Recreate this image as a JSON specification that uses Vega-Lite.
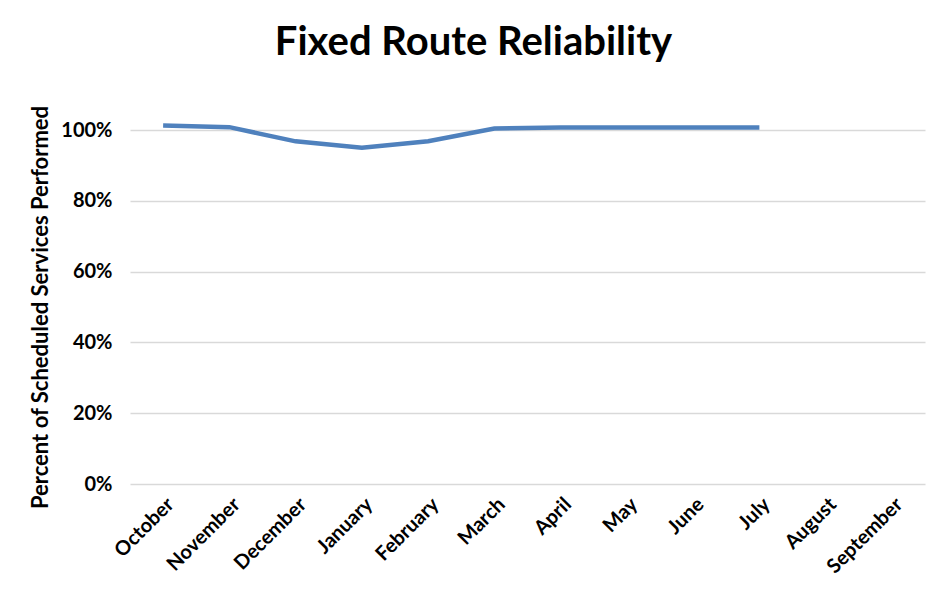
{
  "$schema": "https://vega.github.io/schema/vega-lite/v6.json",
  "autosize": "none",
  "width": 795,
  "height": 354,
  "padding": {"left": 130, "top": 130, "right": 21, "bottom": 116},
  "background": "white",
  "config": {
    "font": "Lato",
    "view": {"stroke": null}
  },
  "title": {
    "text": "Fixed Route Reliability",
    "font": "Lato",
    "fontSize": 40,
    "fontWeight": "bold",
    "color": "#000000",
    "anchor": "middle",
    "dx": -54,
    "offset": 42
  },
  "data": {
    "values": [
      {"month": "October", "reliability": 1.013},
      {"month": "November", "reliability": 1.008},
      {"month": "December", "reliability": 0.968},
      {"month": "January", "reliability": 0.950},
      {"month": "February", "reliability": 0.968},
      {"month": "March", "reliability": 1.004},
      {"month": "April", "reliability": 1.007},
      {"month": "May", "reliability": 1.007},
      {"month": "June", "reliability": 1.007},
      {"month": "July", "reliability": 1.007}
    ]
  },
  "mark": {"type": "line", "color": "#4F81BD", "strokeWidth": 4.5, "clip": false},
  "encoding": {
    "x": {
      "field": "month",
      "type": "ordinal",
      "sort": null,
      "scale": {
        "domain": ["October", "November", "December", "January", "February", "March", "April", "May", "June", "July", "August", "September"],
        "padding": 0.5
      },
      "axis": {
        "title": null,
        "labelAngle": -45,
        "labelFontSize": 20,
        "labelFontWeight": "bold",
        "labelColor": "#000000",
        "labelPadding": 10,
        "ticks": false,
        "domain": false,
        "grid": false
      }
    },
    "y": {
      "field": "reliability",
      "type": "quantitative",
      "scale": {"domain": [0, 1], "nice": false},
      "axis": {
        "title": "Percent of Scheduled Services Performed",
        "titleFontSize": 22,
        "titleFontWeight": "bold",
        "titleColor": "#000000",
        "titlePadding": 8,
        "values": [0, 0.2, 0.4, 0.6, 0.8, 1],
        "format": ".0%",
        "labelFontSize": 20,
        "labelFontWeight": "bold",
        "labelColor": "#000000",
        "labelPadding": 18,
        "ticks": false,
        "domain": false,
        "grid": true,
        "gridColor": "#D9D9D9",
        "gridWidth": 1.5
      }
    }
  }
}
